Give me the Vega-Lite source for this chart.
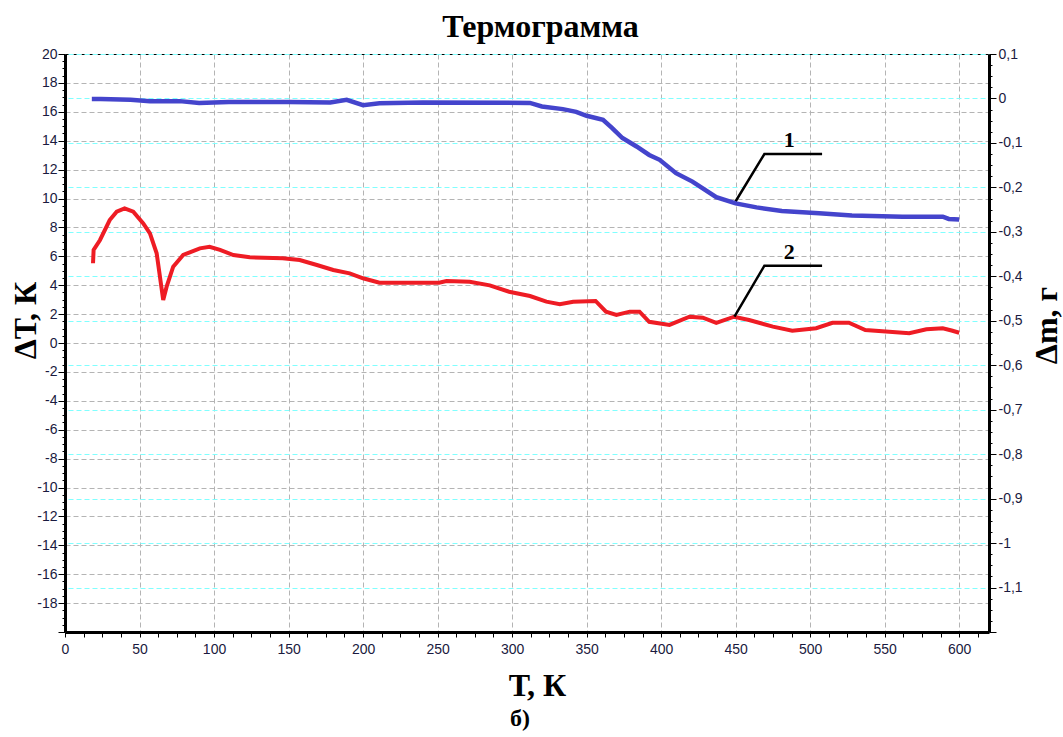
{
  "$schema": "https://vega.github.io/schema/vega-lite/v6.json",
  "width": 924,
  "height": 578,
  "autosize": "none",
  "padding": {"left": 65, "top": 54, "right": 74, "bottom": 105},
  "background": "white",
  "config": {
    "view": {"stroke": null},
    "axis": {
      "labelFont": "Liberation Sans",
      "labelFontSize": 14,
      "labelColor": "#1a1a40",
      "tickColor": "black",
      "tickWidth": 1,
      "domainColor": "black",
      "domainWidth": 3,
      "gridDash": [5, 3],
      "gridWidth": 1,
      "labelOverlap": false,
      "labelFlush": false,
      "titleFont": "Liberation Serif",
      "titleFontSize": 32,
      "titleFontWeight": "bold",
      "titleColor": "black"
    },
    "title": {"font": "Liberation Serif", "fontSize": 24, "fontWeight": "bold", "color": "black"}
  },
  "title": {
    "text": "б)",
    "orient": "bottom",
    "anchor": "middle",
    "font": "Liberation Serif",
    "fontSize": 24,
    "fontWeight": "bold",
    "color": "black",
    "offset": 6,
    "dx": -7
  },
  "datasets": {
    "dt": [
      {"T": 18.8, "dT": 5.52}, {"T": 19.2, "dT": 6.44}, {"T": 23.5, "dT": 7.13}, {"T": 30, "dT": 8.51},
      {"T": 34.7, "dT": 9.09}, {"T": 40, "dT": 9.32}, {"T": 45.8, "dT": 9.09}, {"T": 52.5, "dT": 8.28},
      {"T": 57, "dT": 7.59}, {"T": 61.5, "dT": 6.21}, {"T": 65.9, "dT": 2.98}, {"T": 68.2, "dT": 3.9},
      {"T": 72.6, "dT": 5.28}, {"T": 79.3, "dT": 6.09}, {"T": 90.5, "dT": 6.55}, {"T": 97, "dT": 6.66},
      {"T": 104, "dT": 6.44}, {"T": 113, "dT": 6.09}, {"T": 124, "dT": 5.93}, {"T": 146, "dT": 5.86},
      {"T": 157.5, "dT": 5.74}, {"T": 169, "dT": 5.4}, {"T": 180, "dT": 5.05}, {"T": 191, "dT": 4.82},
      {"T": 200, "dT": 4.48}, {"T": 211, "dT": 4.17}, {"T": 251, "dT": 4.17}, {"T": 256, "dT": 4.29},
      {"T": 271.5, "dT": 4.24}, {"T": 285, "dT": 3.99}, {"T": 298, "dT": 3.55}, {"T": 312, "dT": 3.25},
      {"T": 323, "dT": 2.86}, {"T": 332, "dT": 2.68}, {"T": 341, "dT": 2.86}, {"T": 356, "dT": 2.91},
      {"T": 363, "dT": 2.17}, {"T": 370, "dT": 1.94}, {"T": 379, "dT": 2.17}, {"T": 385.5, "dT": 2.17},
      {"T": 392, "dT": 1.47}, {"T": 405.6, "dT": 1.25}, {"T": 419, "dT": 1.82}, {"T": 428, "dT": 1.75},
      {"T": 437, "dT": 1.4}, {"T": 449, "dT": 1.82}, {"T": 459, "dT": 1.59}, {"T": 475, "dT": 1.13},
      {"T": 488, "dT": 0.85}, {"T": 504, "dT": 1.02}, {"T": 515, "dT": 1.4}, {"T": 526, "dT": 1.4},
      {"T": 537, "dT": 0.9}, {"T": 553, "dT": 0.78}, {"T": 566.5, "dT": 0.67}, {"T": 578, "dT": 0.95},
      {"T": 589, "dT": 1.02}, {"T": 595.5, "dT": 0.85}, {"T": 600, "dT": 0.71}
    ],
    "dm": [
      {"T": 18, "dm": -0.001}, {"T": 24, "dm": -0.001}, {"T": 44, "dm": -0.003}, {"T": 57, "dm": -0.006},
      {"T": 77, "dm": -0.006}, {"T": 90, "dm": -0.01}, {"T": 110, "dm": -0.008}, {"T": 124, "dm": -0.008},
      {"T": 150, "dm": -0.008}, {"T": 178, "dm": -0.009}, {"T": 189, "dm": -0.003}, {"T": 200, "dm": -0.015},
      {"T": 211, "dm": -0.011}, {"T": 240, "dm": -0.009}, {"T": 312, "dm": -0.01}, {"T": 320, "dm": -0.018},
      {"T": 334, "dm": -0.024}, {"T": 343, "dm": -0.03}, {"T": 350, "dm": -0.039}, {"T": 361, "dm": -0.048},
      {"T": 367, "dm": -0.066}, {"T": 374, "dm": -0.089}, {"T": 383.5, "dm": -0.108}, {"T": 392, "dm": -0.127},
      {"T": 399, "dm": -0.138}, {"T": 410, "dm": -0.168}, {"T": 421, "dm": -0.187}, {"T": 437, "dm": -0.222},
      {"T": 450, "dm": -0.236}, {"T": 464, "dm": -0.245}, {"T": 481, "dm": -0.253}, {"T": 506, "dm": -0.258},
      {"T": 528, "dm": -0.263}, {"T": 562, "dm": -0.266}, {"T": 589, "dm": -0.266}, {"T": 593, "dm": -0.271},
      {"T": 600, "dm": -0.272}
    ],
    "leaders": [
      {"id": "1", "T": 449.2, "dT": 9.67}, {"id": "1", "T": 469.3, "dT": 13.08}, {"id": "1", "T": 508, "dT": 13.08},
      {"id": "2", "T": 449.2, "dT": 1.82}, {"id": "2", "T": 469.3, "dT": 5.35}, {"id": "2", "T": 508, "dT": 5.35}
    ],
    "labels": [
      {"label": "1", "T": 486, "dT": 14.05},
      {"label": "2", "T": 486, "dT": 6.32}
    ]
  },
  "layer": [
    {
      "encoding": {
        "x": {
          "field": "T",
          "type": "quantitative",
          "scale": {"domain": [0, 620], "nice": false, "zero": false},
          "axis": {
            "orient": "bottom",
            "title": "Т, К",
            "titleX": 472,
            "titleY": 63,
            "titleAlign": "center",
            "titleBaseline": "alphabetic",
            "values": [0,12.5,25,37.5,50,62.5,75,87.5,100,112.5,125,137.5,150,162.5,175,187.5,200,212.5,225,237.5,250,262.5,275,287.5,300,312.5,325,337.5,350,362.5,375,387.5,400,412.5,425,437.5,450,462.5,475,487.5,500,512.5,525,537.5,550,562.5,575,587.5,600,612.5],
            "labelExpr": "datum.value % 50 === 0 ? datum.label : ''",
            "tickSize": 5,
            "labelPadding": 5,
            "grid": true,
            "gridColor": "#b4b4b4",
            "gridOpacity": {"condition": {"test": "datum.value % 50 === 0 && datum.value > 0", "value": 1}, "value": 0}
          }
        },
        "y": {
          "field": "dT",
          "type": "quantitative",
          "scale": {"domain": [-20, 20], "nice": false, "zero": false},
          "axis": {
            "orient": "left",
            "title": "ΔТ, К",
            "titleX": -30,
            "titleY": 266,
            "titleAngle": -90,
            "titleAlign": "center",
            "titleBaseline": "alphabetic",
            "values": [-20,-19.5,-19,-18.5,-18,-17.5,-17,-16.5,-16,-15.5,-15,-14.5,-14,-13.5,-13,-12.5,-12,-11.5,-11,-10.5,-10,-9.5,-9,-8.5,-8,-7.5,-7,-6.5,-6,-5.5,-5,-4.5,-4,-3.5,-3,-2.5,-2,-1.5,-1,-0.5,0,0.5,1,1.5,2,2.5,3,3.5,4,4.5,5,5.5,6,6.5,7,7.5,8,8.5,9,9.5,10,10.5,11,11.5,12,12.5,13,13.5,14,14.5,15,15.5,16,16.5,17,17.5,18,18.5,19,19.5,20],
            "labelExpr": "datum.value % 2 === 0 && datum.value > -20 ? replace(format(datum.value, 'd'), '\u2212', '-') : ''",
            "tickSize": {"condition": {"test": "datum.value % 2 === 0", "value": 7}, "value": 3},
            "labelPadding": 1,
            "grid": true,
            "gridColor": {"condition": {"test": "datum.value === 20", "value": "black"}, "value": "#b4b4b4"},
            "gridOpacity": {"condition": {"test": "datum.value % 2 === 0 && datum.value > -20", "value": 1}, "value": 0}
          }
        }
      },
      "layer": [
        {"data": {"name": "dt"}, "mark": {"type": "line", "color": "#ee1c24", "strokeWidth": 4}},
        {"data": {"name": "leaders"}, "mark": {"type": "line", "color": "black", "strokeWidth": 2.5}, "encoding": {"detail": {"field": "id"}}},
        {"data": {"name": "labels"}, "mark": {"type": "text", "font": "Liberation Serif", "fontSize": 22, "fontWeight": "bold", "align": "center", "baseline": "middle", "color": "black"}, "encoding": {"text": {"field": "label"}}}
      ]
    },
    {
      "data": {"name": "dm"},
      "mark": {"type": "line", "color": "#4444cc", "strokeWidth": 4.5},
      "encoding": {
        "x": {
          "field": "T",
          "type": "quantitative",
          "scale": {"domain": [0, 620], "nice": false, "zero": false},
          "axis": {
            "orient": "top",
            "title": "Термограмма",
            "domain": false,
            "ticks": false,
            "labels": false,
            "grid": false,
            "titleX": 475,
            "titleY": -18,
            "titleAlign": "center",
            "titleBaseline": "alphabetic"
          }
        },
        "y": {
          "field": "dm",
          "type": "quantitative",
          "scale": {"domain": [-1.2, 0.1], "nice": false, "zero": false},
          "axis": {
            "orient": "right",
            "title": "Δm, г",
            "titleX": 67,
            "titleY": 271,
            "titleAngle": -90,
            "titleAlign": "center",
            "titleBaseline": "alphabetic",
            "values": [-1.2,-1.175,-1.15,-1.125,-1.1,-1.075,-1.05,-1.025,-1,-0.975,-0.95,-0.925,-0.9,-0.875,-0.85,-0.825,-0.8,-0.775,-0.75,-0.725,-0.7,-0.675,-0.65,-0.625,-0.6,-0.575,-0.55,-0.525,-0.5,-0.475,-0.45,-0.425,-0.4,-0.375,-0.35,-0.325,-0.3,-0.275,-0.25,-0.225,-0.2,-0.175,-0.15,-0.125,-0.1,-0.075,-0.05,-0.025,0,0.025,0.05,0.075,0.1],
            "labelExpr": "abs(round(datum.value * 40)) % 4 === 0 && datum.value > -1.15 ? replace(replace(format(datum.value, '.1~f'), '\u2212', '-'), '.', ',') : ''",
            "tickSize": {"condition": {"test": "abs(round(datum.value * 40)) % 4 === 0", "value": 7}, "value": 3},
            "labelPadding": 2,
            "grid": true,
            "gridColor": "#80ffff",
            "gridDashOffset": 4,
            "gridOpacity": {"condition": {"test": "abs(round(datum.value * 40)) % 4 === 0 && datum.value > -1.15", "value": 1}, "value": 0}
          }
        }
      }
    }
  ],
  "resolve": {"scale": {"y": "independent"}, "axis": {"x": "independent", "y": "independent"}}
}
